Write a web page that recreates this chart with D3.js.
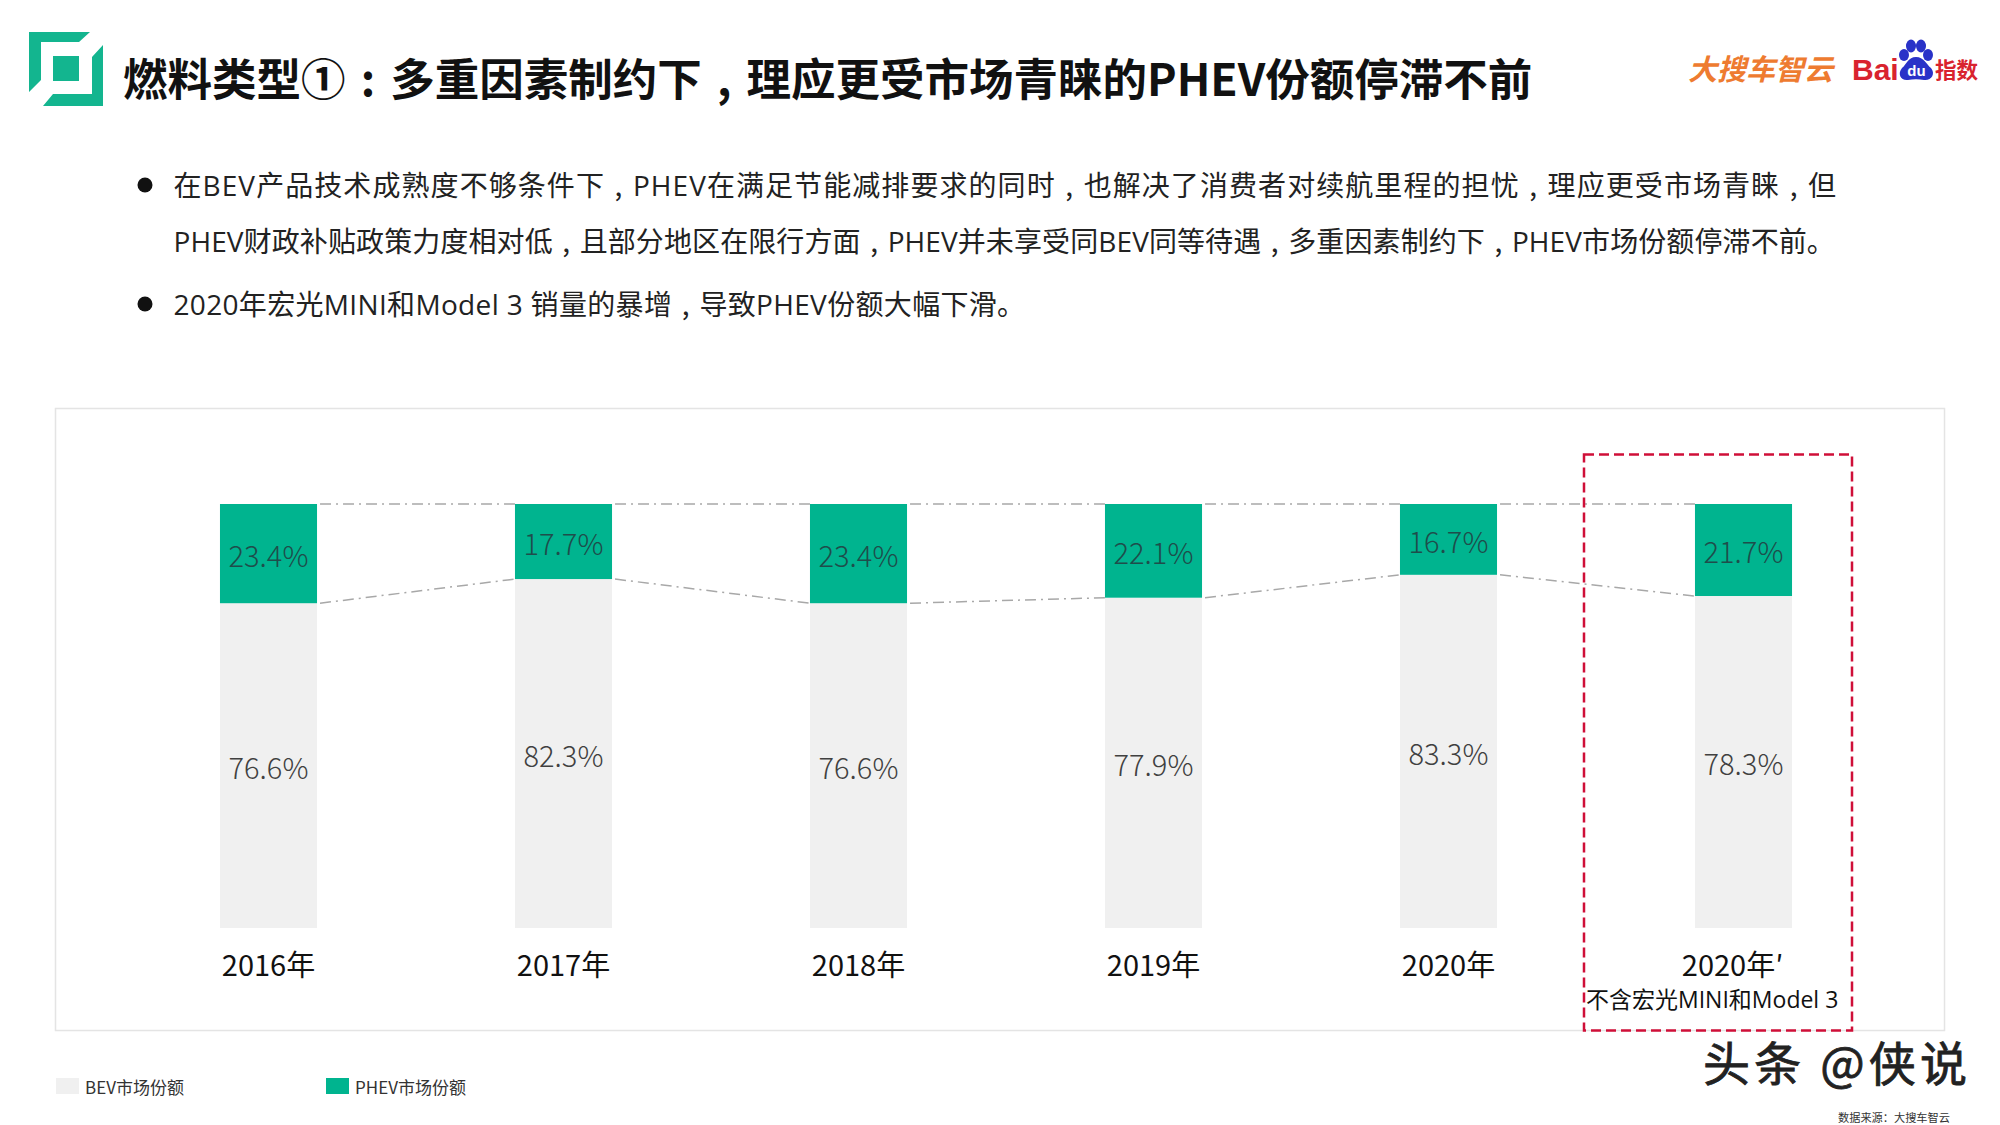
<!DOCTYPE html>
<html>
<head>
<meta charset="utf-8">
<script src="https://cdn.jsdelivr.net/npm/d3@7"></script>
<style>
  html, body { margin: 0; padding: 0; background: #fff; }
  text { font-family: "Noto Sans CJK SC", "Noto Sans", sans-serif; }
</style>
</head>
<body>
<svg id="chart" width="2000" height="1125"></svg>
<script>
const years = ["2016年", "2017年", "2018年", "2019年", "2020年", "2020年′"];
const bevShare = [76.6, 82.3, 76.6, 77.9, 83.3, 78.3];
const phevShare = [23.4, 17.7, 23.4, 22.1, 16.7, 21.7];
const seriesNames = ["BEV市场份额", "PHEV市场份额"];
const seriesColors = ["#f0f0f0", "#00b48f"];

const titleText = "燃料类型①：多重因素制约下，理应更受市场青睐的PHEV份额停滞不前";
const bodyLines = [
  "在BEV产品技术成熟度不够条件下，PHEV在满足节能减排要求的同时，也解决了消费者对续航里程的担忧，理应更受市场青睐，但",
  "PHEV财政补贴政策力度相对低，且部分地区在限行方面，PHEV并未享受同BEV同等待遇，多重因素制约下，PHEV市场份额停滞不前。",
  "2020年宏光MINI和Model 3 销量的暴增，导致PHEV份额大幅下滑。",
];

const svg = d3.select("#chart");

// full width punctuation sits centred in the slide font, noto pushes it left.
// use the latin glyph and pad both sides, latin runs go to open sans
const addRuns = (textSel, str, latinFont) => {
  const runs = str.match(/[，：]|[A-Za-z0-9 .]+|[^，：A-Za-z0-9 .]+/g);
  let pad = 0;
  runs.forEach((run) => {
    const isMark = run === "，" || run === "：";
    const isLatin = /^[A-Za-z0-9 .]+$/.test(run);
    const span = textSel.append("tspan")
      .attr("dx", `${(isMark ? 0.34 : 0) + pad}em`)
      .text(isMark ? (run === "，" ? "," : ":") : run);
    if (isLatin && latinFont) span.style("font-family", latinFont);
    pad = isMark ? 0.34 : 0;
  });
};

// header
svg.append("path")
  .attr("d", "M29,32H90L79,42H41V80L29,92Z M103,45V106H43L53,94H92V57Z M53,56H79V81H53Z")
  .attr("fill", "#13b58f");

const title = svg.append("text")
  .attr("x", 123)
  .attr("y", 80)
  .attr("dy", "0.36em")
  .attr("font-size", 44.5)
  .attr("font-weight", 700)
  .attr("fill", "#111");
addRuns(title, titleText, null);

svg.append("text")
  .attr("x", 1688)
  .attr("y", 70)
  .attr("dy", "0.36em")
  .attr("font-size", 29)
  .attr("font-weight", 700)
  .attr("font-style", "italic")
  .attr("fill", "#ee7b30")
  .attr("textLength", 145)
  .attr("lengthAdjust", "spacingAndGlyphs")
  .text("大搜车智云");

svg.append("text")
  .attr("x", 1852)
  .attr("y", 80)
  .style("font-family", "Liberation Sans")
  .attr("font-size", 30)
  .attr("font-weight", 700)
  .attr("fill", "#d9232e")
  .text("Bai");

// baidu paw
const paw = svg.append("g").attr("fill", "#2932c8");
[[1904, 55, 5, 6], [1911, 46, 5, 6.5], [1921, 46, 5, 6.5], [1928, 55, 5, 6]].forEach(([cx, cy, rx, ry]) => {
  paw.append("ellipse").attr("cx", cx).attr("cy", cy).attr("rx", rx).attr("ry", ry);
});
paw.append("path").attr("d", "M1916,57C1924,57 1926,64 1931,68C1936,74 1931,81 1924,80C1919,79 1913,79 1908,80C1901,81 1897,74 1902,68C1907,64 1908,57 1916,57Z");
svg.append("text")
  .attr("x", 1916.5)
  .attr("y", 76)
  .attr("text-anchor", "middle")
  .attr("font-size", 15)
  .attr("font-weight", 700)
  .style("font-family", "Liberation Sans")
  .attr("fill", "#fff")
  .text("du");

svg.append("text")
  .attr("x", 1935)
  .attr("y", 70)
  .attr("dy", "0.36em")
  .attr("font-size", 21.5)
  .attr("font-weight", 700)
  .attr("fill", "#d9232e")
  .text("指数");

// bullet text, first line is justified in the slide so it runs wider
const bodyLayout = [
  { y: 186, spacing: 1.07, bullet: true },
  { y: 242, spacing: 0.1, bullet: false },
  { y: 305, spacing: 0.33, bullet: true },
];
bodyLines.forEach((line, i) => {
  const row = bodyLayout[i];
  const t = svg.append("text")
    .attr("x", 173.5)
    .attr("y", row.y)
    .attr("dy", "0.36em")
    .attr("font-size", 28)
    .style("letter-spacing", `${row.spacing}px`)
    .attr("fill", "#222");
  addRuns(t, line, "Open Sans");
  if (row.bullet) {
    svg.append("circle").attr("cx", 145).attr("cy", row.y - 1).attr("r", 7.5).attr("fill", "#111");
  }
});

// chart panel
svg.append("rect")
  .attr("x", 55.5)
  .attr("y", 408.5)
  .attr("width", 1889)
  .attr("height", 622)
  .attr("fill", "#fff")
  .attr("stroke", "#e4e4e4")
  .attr("stroke-width", 1.5);

const x = d3.scaleBand()
  .domain(years)
  .range([121, 1891])
  .paddingInner(0.671)
  .paddingOuter(0.3355);

const y = d3.scaleLinear()
  .domain([0, 100])
  .range([928, 504]);

const rows = years.map((year, i) => ({ year, bev: bevShare[i], phev: phevShare[i] }));
const stacked = d3.stack().keys(["bev", "phev"])(rows);

// connecting lines between neighbouring bars
const connectors = svg.append("g")
  .attr("fill", "none")
  .attr("stroke", "#a8a8a8")
  .attr("stroke-width", 1.5)
  .attr("stroke-dasharray", "11 5 2 5");
stacked.forEach((layer) => {
  d3.pairs(layer).forEach(([a, b]) => {
    connectors.append("line")
      .attr("x1", x(a.data.year) + x.bandwidth() + 3)
      .attr("x2", x(b.data.year))
      .attr("y1", y(a[1]))
      .attr("y2", y(b[1]));
  });
});

const layers = svg.append("g")
  .selectAll("g")
  .data(stacked)
  .join("g")
  .attr("fill", (d, i) => seriesColors[i]);

layers.selectAll("rect")
  .data((d) => d)
  .join("rect")
  .attr("x", (d) => x(d.data.year))
  .attr("y", (d) => y(d[1]))
  .attr("width", x.bandwidth())
  .attr("height", (d) => y(d[0]) - y(d[1]));

layers.selectAll("text")
  .data((d) => d)
  .join("text")
  .attr("x", (d) => x(d.data.year) + x.bandwidth() / 2)
  .attr("y", (d) => (y(d[0]) + y(d[1])) / 2 + 3)
  .attr("dy", "0.36em")
  .attr("text-anchor", "middle")
  .attr("font-size", 29)
  .attr("font-weight", 300)
  .attr("fill", (d, i, nodes) => (nodes[i].parentNode.__data__.key === "phev" ? "#1f4d4b" : "#404040"))
  .text((d) => `${d3.format(".1f")(d[1] - d[0])}%`);

// category axis
const axis = svg.append("g")
  .attr("transform", "translate(0,966)")
  .call(d3.axisBottom(x).tickSize(0).tickPadding(0));
axis.select(".domain").remove();
axis.selectAll("text")
  .attr("y", 0)
  .attr("dy", "0.36em")
  .attr("dx", (d) => (d === years[5] ? -11 : 0))
  .style("font-family", "'Noto Sans CJK SC'")
  .style("font-size", "29px")
  .attr("fill", "#111");

const note = svg.append("text")
  .attr("x", 1586)
  .attr("y", 999.5)
  .attr("dy", "0.36em")
  .attr("font-size", 23)
  .attr("fill", "#111");
addRuns(note, "不含宏光MINI和Model 3", "Open Sans");

// highlight frame
svg.append("rect")
  .attr("x", 1584)
  .attr("y", 454.5)
  .attr("width", 268)
  .attr("height", 576)
  .attr("fill", "none")
  .attr("stroke", "#cf0f38")
  .attr("stroke-width", 2.5)
  .attr("stroke-dasharray", "10 5");

// legend
const legendSwatchX = [56, 326];
const legendTextX = [85, 355];
seriesNames.forEach((name, i) => {
  svg.append("rect")
    .attr("x", legendSwatchX[i])
    .attr("y", 1078)
    .attr("width", 23)
    .attr("height", 16)
    .attr("fill", seriesColors[i]);
  svg.append("text")
    .attr("x", legendTextX[i])
    .attr("y", 1088)
    .attr("dy", "0.36em")
    .attr("font-size", 17)
    .attr("fill", "#333")
    .text(name);
});

// watermark and source
svg.append("text")
  .attr("x", 1703)
  .attr("y", 1064)
  .attr("dy", "0.36em")
  .attr("font-size", 47)
  .attr("fill", "#222")
  .attr("stroke", "#222")
  .attr("stroke-width", 0.8)
  .attr("textLength", 264)
  .text("头条 @侠说");

svg.append("text")
  .attr("x", 1838)
  .attr("y", 1118)
  .attr("dy", "0.36em")
  .attr("font-size", 11.2)
  .attr("fill", "#333")
  .text("数据来源：大搜车智云");
</script>
</body>
</html>
